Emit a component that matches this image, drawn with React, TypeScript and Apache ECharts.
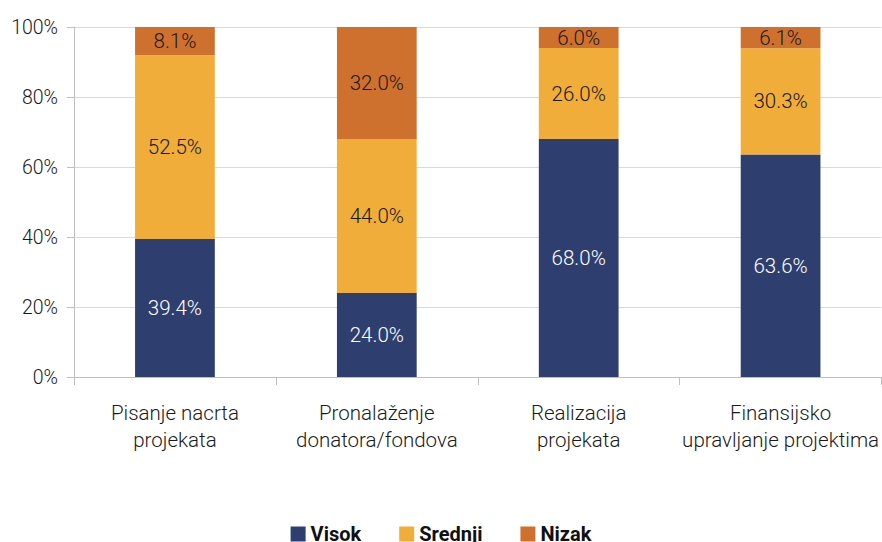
import React, { useEffect, useRef } from "react";
import * as echarts from "echarts";

const categories = [
  "Pisanje nacrta\nprojekata",
  "Pronalaženje\ndonatora/fondova",
  "Realizacija\nprojekata",
  "Finansijsko\nupravljanje projektima",
];
const visok = [39.4, 24.0, 68.0, 63.6];
const srednji = [52.5, 44.0, 26.0, 30.3];
const nizak = [8.1, 32.0, 6.0, 6.1];
const yTicks = [0, 20, 40, 60, 80, 100];

const FONT = "Roboto";

export default function App() {
  const ref = useRef<HTMLDivElement>(null);
  useEffect(() => {
    document.body.style.margin = "0";
    const chart = echarts.init(ref.current!, null, { renderer: "svg" });
    const mk = (name: string, data: number[], color: string, labelColor: string) => ({
      name,
      type: "bar",
      stack: "total",
      data,
      barWidth: "39.5%",
      itemStyle: { color },
      label: {
        show: true,
        position: "inside",
        formatter: (p: any) => p.value.toFixed(1) + "%",
        color: labelColor,
        fontFamily: FONT,
        fontWeight: 300,
        fontSize: 20.5,
      },
    });
    chart.setOption({
      animation: false,
      grid: { left: 74, right: 0, top: 27, bottom: 165 },
      legend: {
        bottom: -7,
        left: "center",
        itemWidth: 15,
        itemHeight: 15,
        itemGap: 38,
        icon: "rect",
        textStyle: { fontFamily: FONT, fontWeight: "bold", fontSize: 20, color: "#111" },
        data: ["Visok", "Srednji", "Nizak"],
      },
      xAxis: {
        type: "category",
        data: categories,
        axisLine: { lineStyle: { color: "#bfbfbf" } },
        axisTick: { show: true, length: 8, lineStyle: { color: "#bfbfbf" } },
        axisLabel: {
          fontFamily: FONT,
          fontWeight: 300,
          fontSize: 20.5,
          color: "#1a1a1a",
          lineHeight: 27,
          margin: 22,
          interval: 0,
        },
      },
      yAxis: {
        type: "value",
        min: 0,
        max: 100,
        interval: 20,
        axisLine: { show: true, lineStyle: { color: "#bfbfbf" } },
        axisTick: { show: true, length: 7, lineStyle: { color: "#bfbfbf" } },
        splitLine: { lineStyle: { color: "#d9d9d9" } },
        axisLabel: {
          formatter: (v: number) => (yTicks.includes(v) ? v + "%" : ""),
          fontFamily: FONT,
          fontWeight: 300,
          fontSize: 19.5,
          color: "#1a1a1a",
          margin: 16,
        },
      },
      series: [
        mk("Visok", visok, "#2E3E6F", "#ffffff"),
        mk("Srednji", srednji, "#F0AD3A", "#1a1a1a"),
        mk("Nizak", nizak, "#CF712E", "#1a1a1a"),
      ],
    });
    return () => chart.dispose();
  }, []);
  return <div ref={ref} style={{ width: 882, height: 542 }} />;
}
